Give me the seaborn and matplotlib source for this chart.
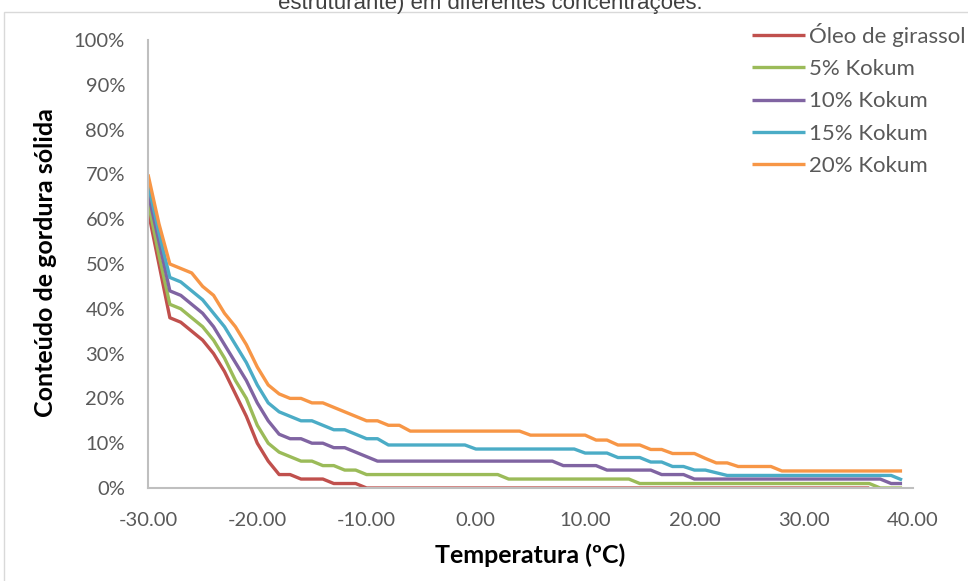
import numpy as np
import pandas as pd
import matplotlib
matplotlib.use("Agg")
import matplotlib.pyplot as plt
import seaborn as sns
from matplotlib.patches import Rectangle

# Temperature grid (ºC)
temperatura = list(range(-30, 40))

# Solid fat content (%) per sample
oleo_girassol = [62, 50, 38, 37, 35, 33, 30, 26, 21, 16, 10, 6, 3, 3, 2, 2, 2, 1, 1, 1] \
    + [0] * 47 + [np.nan] * 3
kokum_5 = [64, 52, 41, 40, 38, 36, 33, 29, 24, 20, 14, 10, 8, 7, 6, 6, 5, 5, 4, 4] \
    + [3] * 13 + [2] * 12 + [1] * 22 + [0] * 3
kokum_10 = [66, 55, 44, 43, 41, 39, 36, 32, 28, 24, 19, 15, 12, 11, 11, 10, 10, 9, 9, 8, 7] \
    + [6] * 17 + [5] * 4 + [4] * 5 + [3] * 3 + [2] * 18 + [1] * 2
kokum_15 = [68, 57, 47, 46, 44, 42, 39, 36, 32, 28, 23, 19, 17, 16, 15, 15, 14, 13, 13, 12, 11, 11] \
    + [9.6] * 8 + [8.7] * 10 + [7.8] * 3 + [6.8] * 3 + [5.8] * 2 + [4.8] * 2 + [4] * 2 \
    + [3.4] + [2.8] * 16 + [1.8]
kokum_20 = [70, 59, 50, 49, 48, 45, 43, 39, 36, 32, 27, 23, 21, 20, 20, 19, 19, 18, 17, 16, 15, 15, 14, 14] \
    + [12.7] * 11 + [11.8] * 6 + [10.7] * 2 + [9.6] * 3 + [8.6] * 2 + [7.7] * 3 + [6.6] \
    + [5.6] * 2 + [4.8] * 4 + [3.8] * 12

series_names = ["Óleo de girassol", "5% Kokum", "10% Kokum", "15% Kokum", "20% Kokum"]
series_values = [oleo_girassol, kokum_5, kokum_10, kokum_15, kokum_20]
series_colors = ["#C0504D", "#9BBB59", "#8064A2", "#4BACC6", "#F79646"]

x_ticks = [-30, -20, -10, 0, 10, 20, 30, 40]
x_tick_labels = ["-30.00", "-20.00", "-10.00", "0.00", "10.00", "20.00", "30.00", "40.00"]
y_ticks = [0, 10, 20, 30, 40, 50, 60, 70, 80, 90, 100]
y_tick_labels = [f"{v}%" for v in y_ticks]

frames = []
for name, vals in zip(series_names, series_values):
    frames.append(pd.DataFrame({"Temperatura": temperatura, "SFC": vals, "Amostra": name}))
df = pd.concat(frames, ignore_index=True).dropna()

sns.set_theme(style="white")
plt.rcParams["font.family"] = ["Lato", "DejaVu Sans"]
plt.rcParams["axes.unicode_minus"] = False

W, H = 968, 581
fig = plt.figure(figsize=(W / 100, H / 100), dpi=100)
ax = fig.add_axes([148 / W, 1 - 488 / H, (913 - 148) / W, (488 - 40) / H])

sns.lineplot(data=df, x="Temperatura", y="SFC", hue="Amostra", hue_order=series_names,
             palette=series_colors, linewidth=2.4, ax=ax, legend=True)
for ln in ax.get_lines():
    ln.set_solid_joinstyle("round")
    ln.set_solid_capstyle("butt")

ax.set_xlim(-30, 40)
ax.set_ylim(0, 100)
ax.set_xticks(x_ticks)
ax.set_xticklabels(x_tick_labels)
ax.set_yticks(y_ticks)
ax.set_yticklabels(y_tick_labels)
ax.tick_params(axis="both", length=0, labelsize=14.5, labelcolor="#595959")
ax.tick_params(axis="x", pad=17)
ax.tick_params(axis="y", pad=16.5)

for side in ["top", "right"]:
    ax.spines[side].set_visible(False)
for side in ["left", "bottom"]:
    ax.spines[side].set_color("#BFBFBF")
    ax.spines[side].set_linewidth(1.5)

ax.set_xlabel("Temperatura (ºC)", fontsize=18, fontweight="bold", color="black")
ax.set_ylabel("Conteúdo de gordura sólida", fontsize=18, fontweight="bold", color="black")
ax.xaxis.set_label_coords(530 / W, 1 - 555 / H, transform=fig.transFigure)
ax.yaxis.set_label_coords(46 / W, 1 - 263 / H, transform=fig.transFigure)
ax.xaxis.label.set_va("center")
ax.yaxis.label.set_va("center")

handles, labels = ax.get_legend_handles_labels()
leg = ax.legend(handles, labels, loc="upper left", bbox_to_anchor=(752 / W, 1 - 23 / H),
                bbox_transform=fig.transFigure, frameon=False, fontsize=16,
                handlelength=2.4, handletextpad=0.15, labelspacing=0.55,
                borderpad=0, borderaxespad=0)
for t in leg.get_texts():
    t.set_color("#595959")
for lh in leg.get_lines():
    lh.set_linewidth(2.4)

# chart area frame
fig.patches.append(Rectangle((4 / W, -0.01), 1.0, 1 - 12 / H + 0.01, transform=fig.transFigure,
                             fill=False, edgecolor="#D9D9D9", linewidth=1.0))

fig.text(490 / W, 1 - 9 / H, "estruturante) em diferentes concentrações.", ha="center",
         va="baseline", fontsize=16, family=["Liberation Sans", "DejaVu Sans"], color="#404040")

fig.savefig("out.png", dpi=100)
